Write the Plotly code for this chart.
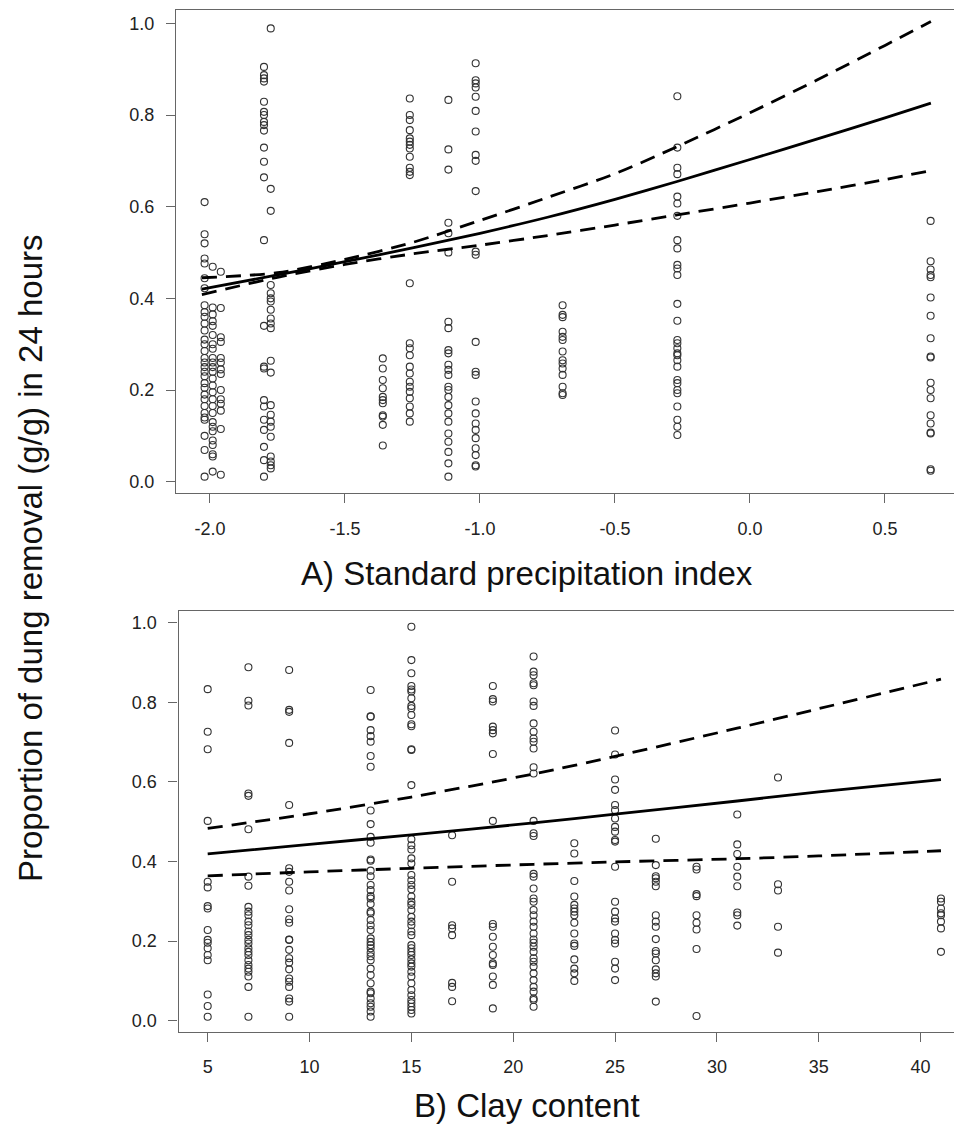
import plotly.graph_objects as go

# ---------------- Panel A: standard precipitation index ----------------
spi_positions = [-2.02, -1.99, -1.96, -1.80, -1.775, -1.36, -1.26, -1.117, -1.016, -0.694, -0.269, 0.669]

spi_col1 = [0.61, 0.54, 0.52, 0.487, 0.476, 0.444, 0.422, 0.385, 0.37, 0.36, 0.345, 0.33, 0.31, 0.30,
            0.285, 0.27, 0.26, 0.25, 0.24, 0.23, 0.215, 0.205, 0.19, 0.18, 0.165, 0.15, 0.14, 0.135,
            0.10, 0.069, 0.011]
spi_col2 = [0.469, 0.38, 0.365, 0.35, 0.34, 0.32, 0.30, 0.29, 0.27, 0.26, 0.25, 0.24, 0.225, 0.21,
            0.195, 0.18, 0.165, 0.15, 0.13, 0.12, 0.11, 0.09, 0.08, 0.06, 0.055, 0.022]
spi_col3 = [0.458, 0.379, 0.315, 0.305, 0.27, 0.26, 0.245, 0.235, 0.2, 0.18, 0.17, 0.155, 0.115, 0.015]
spi_col4 = [0.905, 0.887, 0.88, 0.873, 0.829, 0.807, 0.80, 0.785, 0.778, 0.766, 0.729, 0.698, 0.664,
            0.527, 0.34, 0.251, 0.247, 0.178, 0.164, 0.135, 0.113, 0.076, 0.047, 0.011]
spi_col5 = [0.989, 0.639, 0.591, 0.429, 0.411, 0.40, 0.393, 0.375, 0.356, 0.345, 0.335, 0.264, 0.238,
            0.167, 0.146, 0.131, 0.12, 0.098, 0.055, 0.044, 0.036, 0.029]
spi_col6 = [0.269, 0.247, 0.222, 0.204, 0.185, 0.178, 0.171, 0.145, 0.142, 0.124, 0.079]
spi_col7 = [0.836, 0.80, 0.789, 0.767, 0.749, 0.742, 0.735, 0.727, 0.709, 0.685, 0.676, 0.669, 0.433,
            0.302, 0.291, 0.276, 0.251, 0.236, 0.218, 0.207, 0.196, 0.182, 0.164, 0.149, 0.131]
spi_col8 = [0.833, 0.725, 0.681, 0.565, 0.542, 0.50, 0.349, 0.335, 0.287, 0.28, 0.255, 0.244, 0.233,
            0.207, 0.20, 0.185, 0.167, 0.149, 0.131, 0.105, 0.087, 0.065, 0.04, 0.011]
spi_col9 = [0.913, 0.876, 0.869, 0.86, 0.84, 0.809, 0.764, 0.713, 0.70, 0.634, 0.502, 0.495, 0.305,
            0.24, 0.233, 0.175, 0.149, 0.127, 0.113, 0.095, 0.073, 0.058, 0.036, 0.033]
spi_col10 = [0.385, 0.364, 0.359, 0.327, 0.316, 0.309, 0.284, 0.265, 0.258, 0.247, 0.233, 0.207,
             0.193, 0.189]
spi_col11 = [0.841, 0.729, 0.685, 0.671, 0.622, 0.607, 0.58, 0.527, 0.509, 0.473, 0.465, 0.451, 0.388,
             0.351, 0.309, 0.302, 0.291, 0.28, 0.276, 0.265, 0.251, 0.222, 0.215, 0.20, 0.193, 0.164,
             0.135, 0.12, 0.102]
spi_col12 = [0.569, 0.481, 0.463, 0.451, 0.446, 0.402, 0.362, 0.313, 0.273, 0.271, 0.216, 0.20, 0.182,
             0.145, 0.127, 0.107, 0.105, 0.027, 0.024]
spi_columns = [spi_col1, spi_col2, spi_col3, spi_col4, spi_col5, spi_col6, spi_col7, spi_col8,
               spi_col9, spi_col10, spi_col11, spi_col12]

spi_fit_x = [-2.03, -1.75, -1.5, -1.25, -1.0, -0.75, -0.5, -0.27, 0.0, 0.25, 0.5, 0.67]
spi_fit = [0.42, 0.451, 0.48, 0.51, 0.542, 0.577, 0.616, 0.655, 0.703, 0.748, 0.794, 0.826]
spi_upper = [0.445, 0.456, 0.485, 0.522, 0.57, 0.62, 0.672, 0.731, 0.805, 0.877, 0.952, 1.004]
spi_lower = [0.408, 0.446, 0.474, 0.497, 0.516, 0.537, 0.56, 0.582, 0.608, 0.633, 0.659, 0.679]

spi_ticks = [-2.0, -1.5, -1.0, -0.5, 0.0, 0.5]

# ---------------- Panel B: clay content ----------------
clay_positions = [5, 7, 9, 13, 15, 17, 19, 21, 23, 25, 27, 29, 31, 33, 41]

clay_5 = [0.833, 0.726, 0.682, 0.502, 0.349, 0.335, 0.288, 0.282, 0.228, 0.203, 0.196, 0.182, 0.165,
          0.152, 0.066, 0.037, 0.01]
clay_7 = [0.888, 0.804, 0.792, 0.571, 0.565, 0.481, 0.362, 0.339, 0.286, 0.274, 0.265, 0.249, 0.24,
          0.224, 0.215, 0.203, 0.194, 0.182, 0.173, 0.165, 0.152, 0.14, 0.131, 0.123, 0.111, 0.085, 0.01]
clay_9 = [0.881, 0.781, 0.776, 0.698, 0.542, 0.383, 0.374, 0.349, 0.327, 0.28, 0.255, 0.246, 0.204,
          0.203, 0.178, 0.157, 0.146, 0.129, 0.106, 0.098, 0.085, 0.056, 0.048, 0.01]
clay_13 = [0.831, 0.765, 0.764, 0.73, 0.715, 0.701, 0.665, 0.638, 0.528, 0.494, 0.462, 0.447, 0.405,
           0.402, 0.377, 0.363, 0.341, 0.328, 0.313, 0.307, 0.293, 0.274, 0.27, 0.253, 0.24, 0.228,
           0.207, 0.198, 0.19, 0.182, 0.171, 0.162, 0.152, 0.131, 0.115, 0.094, 0.073, 0.069, 0.056,
           0.044, 0.035, 0.023, 0.01]
clay_15 = [0.99, 0.906, 0.873, 0.841, 0.832, 0.827, 0.81, 0.791, 0.785, 0.768, 0.745, 0.74, 0.682,
           0.68, 0.592, 0.456, 0.441, 0.43, 0.408, 0.395, 0.366, 0.353, 0.341, 0.33, 0.312, 0.299,
           0.291, 0.278, 0.261, 0.249, 0.24, 0.224, 0.215, 0.19, 0.182, 0.173, 0.165, 0.154, 0.144,
           0.136, 0.123, 0.111, 0.094, 0.077, 0.064, 0.052, 0.044, 0.035, 0.027, 0.018]
clay_17 = [0.466, 0.349, 0.24, 0.232, 0.215, 0.095, 0.085, 0.049]
clay_19 = [0.841, 0.808, 0.802, 0.739, 0.73, 0.722, 0.67, 0.502, 0.243, 0.236, 0.211, 0.186, 0.165,
           0.144, 0.14, 0.111, 0.09, 0.031]
clay_21 = [0.915, 0.877, 0.868, 0.848, 0.843, 0.802, 0.791, 0.747, 0.726, 0.709, 0.701, 0.684, 0.637,
           0.621, 0.502, 0.471, 0.464, 0.369, 0.362, 0.332, 0.307, 0.299, 0.278, 0.265, 0.249, 0.236,
           0.219, 0.204, 0.196, 0.186, 0.173, 0.157, 0.148, 0.136, 0.119, 0.102, 0.085, 0.073, 0.056,
           0.052, 0.035]
clay_23 = [0.446, 0.42, 0.351, 0.312, 0.291, 0.282, 0.274, 0.265, 0.246, 0.219, 0.194, 0.188, 0.154,
           0.131, 0.119, 0.10]
clay_25 = [0.729, 0.669, 0.606, 0.58, 0.542, 0.529, 0.508, 0.487, 0.475, 0.454, 0.45, 0.387, 0.299,
           0.274, 0.257, 0.249, 0.219, 0.203, 0.194, 0.148, 0.131, 0.102]
clay_27 = [0.457, 0.391, 0.363, 0.358, 0.349, 0.338, 0.265, 0.249, 0.236, 0.205, 0.175, 0.169, 0.152,
           0.129, 0.119, 0.111, 0.048]
clay_29 = [0.387, 0.38, 0.318, 0.313, 0.265, 0.246, 0.229, 0.18, 0.012]
clay_31 = [0.518, 0.443, 0.419, 0.387, 0.362, 0.338, 0.272, 0.265, 0.239]
clay_33 = [0.611, 0.343, 0.327, 0.236, 0.171]
clay_41 = [0.307, 0.299, 0.282, 0.27, 0.265, 0.249, 0.232, 0.173]
clay_columns = [clay_5, clay_7, clay_9, clay_13, clay_15, clay_17, clay_19, clay_21, clay_23,
                clay_25, clay_27, clay_29, clay_31, clay_33, clay_41]

clay_fit_x = [5, 10, 15, 21, 25, 31, 35, 41]
clay_fit = [0.419, 0.443, 0.467, 0.497, 0.519, 0.552, 0.575, 0.606]
clay_upper = [0.483, 0.52, 0.562, 0.62, 0.664, 0.735, 0.784, 0.858]
clay_lower = [0.364, 0.374, 0.383, 0.393, 0.399, 0.407, 0.414, 0.427]

clay_ticks = [5, 10, 15, 20, 25, 30, 35, 40]
y_ticks = [0.0, 0.2, 0.4, 0.6, 0.8, 1.0]

# ---------------- Build figure ----------------
W, H = 954, 1128
fig = go.Figure()

def expand(positions, columns):
    xs, ys = [], []
    for xv, col in zip(positions, columns):
        xs += [xv] * len(col)
        ys += col
    return xs, ys

marker = dict(symbol="circle-open", size=7, color="#333333", line=dict(width=1.1, color="#333333"))
solid = dict(color="black", width=2.8, shape="spline", smoothing=0.8)
dashed = dict(color="black", width=2.8, dash="15px,9px", shape="spline", smoothing=0.8)

ax, ay = expand(spi_positions, spi_columns)
fig.add_trace(go.Scatter(x=ax, y=ay, mode="markers", marker=marker, xaxis="x", yaxis="y",
                         showlegend=False, hoverinfo="skip"))
fig.add_trace(go.Scatter(x=spi_fit_x, y=spi_upper, mode="lines", line=dashed, xaxis="x", yaxis="y", showlegend=False))
fig.add_trace(go.Scatter(x=spi_fit_x, y=spi_lower, mode="lines", line=dashed, xaxis="x", yaxis="y", showlegend=False))
fig.add_trace(go.Scatter(x=spi_fit_x, y=spi_fit, mode="lines", line=solid, xaxis="x", yaxis="y", showlegend=False))

bx, by = expand(clay_positions, clay_columns)
fig.add_trace(go.Scatter(x=bx, y=by, mode="markers", marker=marker, xaxis="x2", yaxis="y2",
                         showlegend=False, hoverinfo="skip"))
fig.add_trace(go.Scatter(x=clay_fit_x, y=clay_upper, mode="lines", line=dashed, xaxis="x2", yaxis="y2", showlegend=False))
fig.add_trace(go.Scatter(x=clay_fit_x, y=clay_lower, mode="lines", line=dashed, xaxis="x2", yaxis="y2", showlegend=False))
fig.add_trace(go.Scatter(x=clay_fit_x, y=clay_fit, mode="lines", line=solid, xaxis="x2", yaxis="y2", showlegend=False))

tickfont = dict(family="Liberation Sans, Arial, sans-serif", size=18, color="#222222")
axis_common = dict(showgrid=False, zeroline=False, showline=True, linecolor="#666666", linewidth=1.3,
                   ticks="outside", ticklen=9, tickwidth=1.3, tickcolor="#666666", tickfont=tickfont)

fig.update_layout(
    width=W, height=H,
    margin=dict(l=0, r=0, t=0, b=0),
    paper_bgcolor="white", plot_bgcolor="white",
    xaxis=dict(domain=[176 / W, 1.0], range=[-2.1259, 0.7556], anchor="y", mirror=True,
               tickvals=spi_ticks, ticktext=[f"{v:.1f}" for v in spi_ticks],
               ticklabelstandoff=10, **axis_common),
    yaxis=dict(domain=[(H - 493) / H, (H - 10) / H], range=[-0.0247, 1.0292], anchor="x",
               tickvals=y_ticks, ticktext=[f"{v:.1f}" for v in y_ticks], ticklabelstandoff=8,
               **axis_common),
    xaxis2=dict(domain=[178.5 / W, 1.0], range=[3.567, 41.64], anchor="y2", mirror=True,
                tickvals=clay_ticks, ticktext=[str(v) for v in clay_ticks], ticklabelstandoff=10,
                **axis_common),
    yaxis2=dict(domain=[(H - 1031.7) / H, (H - 611) / H], range=[-0.0276, 1.0294], anchor="x2",
                tickvals=y_ticks, ticktext=[f"{v:.1f}" for v in y_ticks], ticklabelstandoff=8,
                **axis_common),
)

titlefont = dict(family="Liberation Sans, Arial, sans-serif", size=33, color="#111111")
fig.add_annotation(text="A) Standard precipitation index", x=527 / W, y=1 - 573 / H,
                   xref="paper", yref="paper", showarrow=False, font=titlefont,
                   xanchor="center", yanchor="middle")
fig.add_annotation(text="B) Clay content", x=527 / W, y=1 - 1105 / H,
                   xref="paper", yref="paper", showarrow=False, font=titlefont,
                   xanchor="center", yanchor="middle")
fig.add_annotation(text="Proportion of dung removal (g/g) in 24 hours", x=30 / W, y=1 - 558 / H,
                   xref="paper", yref="paper", showarrow=False, font=titlefont, textangle=-90,
                   xanchor="center", yanchor="middle")

fig.write_html("out.html")
